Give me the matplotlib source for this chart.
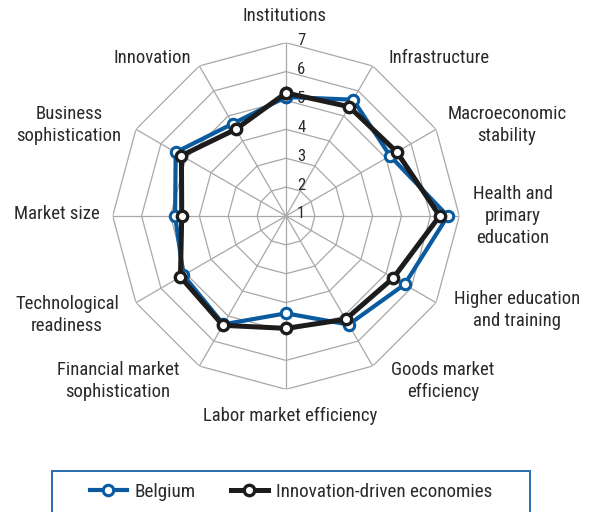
import numpy as np
import matplotlib
matplotlib.use("Agg")
import matplotlib.pyplot as plt
from matplotlib.lines import Line2D
from matplotlib.patches import Rectangle

categories = ["Institutions", "Infrastructure", "Macroeconomic\nstability",
              "Health and\nprimary\neducation", "Higher education\nand training",
              "Goods market\nefficiency", "Labor market efficiency",
              "Financial market\nsophistication", "Technological\nreadiness",
              "Market size", "Business\nsophistication", "Innovation"]
belgium = [5.12, 5.65, 5.16, 6.60, 5.74, 5.34, 4.37, 5.33, 5.10, 4.84, 5.41, 4.69]
innovation_driven = [5.26, 5.37, 5.43, 6.32, 5.29, 5.13, 4.89, 5.37, 5.22, 4.61, 5.18, 4.47]
ring_values = [1, 2, 3, 4, 5, 6, 7]
series_names = ["Belgium", "Innovation-driven economies"]

BLUE = "#0a5aa0"
BLACK = "#1c1c1c"
GRID = "#a8a8a8"
TEXT = "#2a2a2a"
FONT = ["Roboto Condensed", "DejaVu Sans"]
plt.rcParams["font.family"] = FONT

W, H = 590, 512
fig = plt.figure(figsize=(W / 100, H / 100), dpi=100)
cx, cy, R = 286, 216, 173.3
ax = fig.add_axes([(cx - R) / W, (H - cy - R) / H, 2 * R / W, 2 * R / H], projection="polar")
ax.set_theta_zero_location("N")
ax.set_theta_direction(-1)
ax.set_rlim(1, 7)
ax.grid(False)
ax.spines["polar"].set_visible(False)
ax.set_xticks([])
ax.set_yticks([])
ax.patch.set_alpha(0)

n = len(categories)
theta = np.arange(n) * 2 * np.pi / n
theta_c = np.append(theta, theta[0])

for r in ring_values[1:]:
    ax.plot(theta_c, [r] * (n + 1), color=GRID, lw=0.9, zorder=1)
for t in theta:
    ax.plot([t, t], [ring_values[0], ring_values[-1]], color=GRID, lw=0.9, zorder=1)

for r in ring_values:
    ax.annotate(str(r), (0, r), xytext=(8, 1.5), textcoords="offset points",
                ha="left", va="center", fontsize=12, color=TEXT, zorder=2)

def closed(v):
    return list(v) + [v[0]]

ax.plot(theta_c, closed(belgium), color=BLUE, lw=3.0, marker="o", ms=7.5,
        mfc="white", mec=BLUE, mew=2.2, zorder=3, clip_on=False)
ax.plot(theta_c, closed(innovation_driven), color=BLACK, lw=3.6, marker="o", ms=7.5,
        mfc="white", mec=BLACK, mew=2.4, zorder=4, clip_on=False)

# category labels (pixel layout positions)
label_pos = [(285, 16), (439, 58), (507, 125), (513, 216), (517, 310),
             (443, 381), (290, 416), (118, 381), (67, 315), (57, 214),
             (69, 125), (152, 58)]
for lab, (px, py) in zip(categories, label_pos):
    fig.text(px / W, 1 - py / H, lab, ha="center", va="center", fontsize=13.5,
             color=TEXT, linespacing=1.32)

# legend box
fig.patches.append(Rectangle((52 / W, 1 - 530 / H), (530 - 52) / W, (530 - 471) / H,
                             transform=fig.transFigure, fill=False, edgecolor="#2b6cb0",
                             lw=1.4))
handles = [Line2D([], [], color=BLUE, lw=3.0, marker="o", ms=7.5, mfc="white", mec=BLUE, mew=2.2),
           Line2D([], [], color=BLACK, lw=3.6, marker="o", ms=7.5, mfc="white", mec=BLACK, mew=2.4)]
leg = fig.legend(handles, series_names, loc="center", bbox_to_anchor=(291 / W, 1 - 492 / H),
                 ncol=2, frameon=False, fontsize=13.8, handlelength=1.9,
                 handletextpad=0.42, columnspacing=1.85, markerscale=1.0)
for t in leg.get_texts():
    t.set_color(TEXT)

fig.savefig("out.png", dpi=100)
